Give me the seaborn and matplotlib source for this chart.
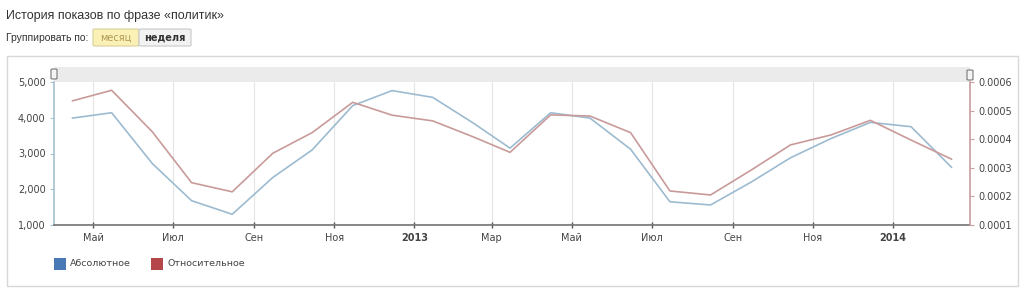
import matplotlib
matplotlib.use("Agg")
import matplotlib.pyplot as plt
from matplotlib.patches import Rectangle, FancyBboxPatch
import seaborn as sns
import pandas as pd
import numpy as np

# ---- data ----
months = pd.date_range("2012-04-01", periods=23, freq="MS") + pd.Timedelta(days=14)
absolute = [3990, 4140, 2720, 1680, 1300, 2330, 3100, 4340, 4760, 4570, 3850, 3150,
            4140, 3990, 3120, 1650, 1560, 2200, 2880, 3420, 3870, 3750, 2610]
relative = [0.000534, 0.000571, 0.000426, 0.000248, 0.000216, 0.000351, 0.000423,
            0.000529, 0.000484, 0.000464, 0.000408, 0.000354, 0.000485, 0.000481,
            0.000423, 0.000219, 0.000205, 0.000292, 0.000380, 0.000415, 0.000466,
            0.000397, 0.000330]
tick_dates = ["2012-05-01", "2012-07-01", "2012-09-01", "2012-11-01", "2013-01-01",
              "2013-03-01", "2013-05-01", "2013-07-01", "2013-09-01", "2013-11-01",
              "2014-01-01"]
tick_labels = ["Май", "Июл", "Сен", "Ноя", "2013", "Мар", "Май", "Июл", "Сен", "Ноя", "2014"]
left_ticks = [1000, 2000, 3000, 4000, 5000]
right_ticks = [0.0001, 0.0002, 0.0003, 0.0004, 0.0005, 0.0006]

df = pd.DataFrame({"date": months, "abs": absolute, "rel": relative})

sns.set_theme(style="white")
plt.rcParams["font.family"] = ["DejaVu Sans"]

BLUE_LINE = "#9dbbd0"
RED_LINE = "#c99a9a"
BLUE_SQ = "#4a7ab5"
RED_SQ = "#b5474a"
TXT = "#444444"
HDR = ["Liberation Sans", "DejaVu Sans"]

fig = plt.figure(figsize=(10.24, 2.88), dpi=100)
W, H = 1024, 288

def fx(px):
    return px / W

def fy(py):
    return 1 - py / H

# panel frame
fig.patches.append(Rectangle((fx(7), fy(286)), fx(1018 - 7), (286 - 56) / H,
                             transform=fig.transFigure, facecolor="none",
                             edgecolor="#d8d8d8", lw=1.0, zorder=-5))

# header texts
fig.text(fx(6), fy(16), "История показов по фразе «политик»", fontsize=9,
         color="#333333", va="center", ha="left", family=HDR)
fig.text(fx(6), fy(38), "Группировать по:", fontsize=7.5, color="#333333",
         va="center", ha="left", family=HDR)
fig.patches.append(FancyBboxPatch((fx(93), fy(46)), fx(46), 17 / H,
                                  boxstyle="round,pad=0,rounding_size=0.003",
                                  transform=fig.transFigure, facecolor="#fbf0b5",
                                  edgecolor="#d8cf9a", lw=0.8, zorder=-4))
fig.patches.append(FancyBboxPatch((fx(139), fy(46)), fx(52), 17 / H,
                                  boxstyle="round,pad=0,rounding_size=0.003",
                                  transform=fig.transFigure, facecolor="#f2f2f2",
                                  edgecolor="#c8c8c8", lw=0.8, zorder=-4))
fig.text(fx(116), fy(37.5), "месяц", fontsize=7, color="#b09a55", va="center", ha="center")
fig.text(fx(165), fy(37.5), "неделя", fontsize=7, color="#333333", va="center",
         ha="center", fontweight="bold")

# gray scroll band
fig.patches.append(Rectangle((fx(54), fy(82)), fx(970 - 54), 15 / H,
                             transform=fig.transFigure, facecolor="#ebebeb",
                             edgecolor="none", zorder=-4))
for hx, hy in [(54, 74), (970, 75)]:
    fig.patches.append(FancyBboxPatch((fx(hx - 3), fy(hy + 5)), fx(6), 10 / H,
                                      boxstyle="round,pad=0,rounding_size=0.002",
                                      transform=fig.transFigure, facecolor="#f4f4f4",
                                      edgecolor="#777777", lw=0.8, zorder=5))

ax = fig.add_axes([fx(54), fy(225), fx(970 - 54), (225 - 82) / H])
ax.patch.set_alpha(0)
sns.lineplot(data=df, x="date", y="abs", ax=ax, color=BLUE_LINE, lw=1.2, legend=False)
ax2 = ax.twinx()
ax2.patch.set_alpha(0)
sns.lineplot(data=df, x="date", y="rel", ax=ax2, color=RED_LINE, lw=1.2, legend=False)

ax.set_xlim(pd.Timestamp("2012-04-01"), pd.Timestamp("2014-03-01"))
ax.set_ylim(1000, 5000)
ax2.set_ylim(0.0001, 0.0006)

tds = [pd.Timestamp(t) for t in tick_dates]
ax.set_xticks(tds)
ax.set_xticklabels(tick_labels)
for lab in ax.get_xticklabels():
    lab.set_fontsize(7)
    lab.set_color(TXT)
    if lab.get_text().isdigit():
        lab.set_fontweight("bold")
ax.xaxis.grid(True, color="#e4e4e4", lw=0.8)
ax.yaxis.grid(False)

ax.set_yticks(left_ticks)
ax.set_yticklabels([f"{v:,}" for v in left_ticks], fontsize=7, color=TXT)
ax2.set_yticks(right_ticks)
ax2.set_yticklabels([f"{v:.4f}" for v in right_ticks], fontsize=7, color=TXT)

ax.set_xlabel("")
ax.set_ylabel("")
ax2.set_xlabel("")
ax2.set_ylabel("")

for a in (ax, ax2):
    a.spines["top"].set_visible(False)
ax.spines["right"].set_visible(False)
ax2.spines["left"].set_visible(False)
ax2.spines["bottom"].set_visible(False)
ax.spines["left"].set_color("#a9c2d2")
ax.spines["bottom"].set_color("#777777")
ax2.spines["right"].set_color("#c9a0a0")
ax.tick_params(axis="x", length=4, width=1, color="#555555", direction="inout", pad=4,
               bottom=True)
ax.tick_params(axis="y", length=3, width=0.8, color="#a9c2d2", pad=3, left=True)
ax2.tick_params(axis="y", length=3, width=0.8, color="#c9a0a0", pad=3, right=True)

# legend
for sx, col, label in [(54, BLUE_SQ, "Абсолютное"), (151, RED_SQ, "Относительное")]:
    fig.patches.append(Rectangle((fx(sx), fy(270)), fx(12), 12 / H,
                                 transform=fig.transFigure, facecolor=col,
                                 edgecolor="none"))
    fig.text(fx(sx + 16), fy(264), label, fontsize=6.8, color=TXT, va="center", ha="left")

fig.savefig("out.png", dpi=100)
